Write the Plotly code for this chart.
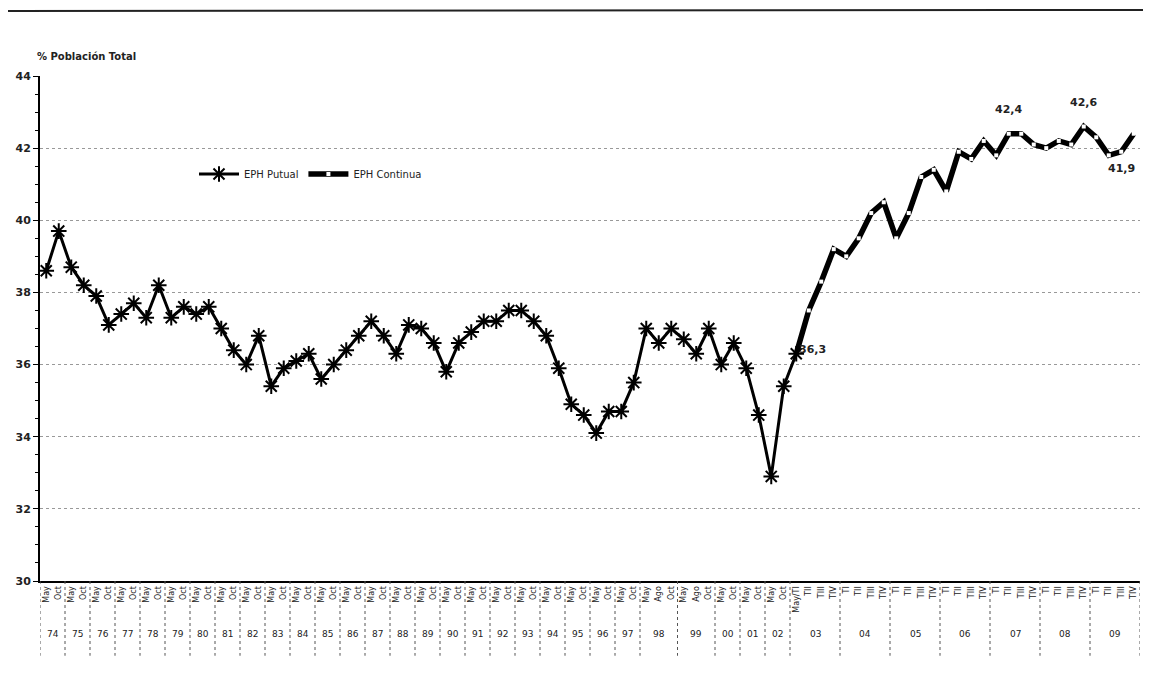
import plotly.graph_objects as go

# ---------------- data ----------------
year_labels = ["74", "75", "76", "77", "78", "79", "80", "81", "82", "83", "84", "85",
               "86", "87", "88", "89", "90", "91", "92", "93", "94", "95", "96", "97",
               "98", "99", "00", "01", "02", "03", "04", "05", "06", "07", "08", "09"]
year_periods = ([["May", "Oct"]] * 24 + [["May", "Ago", "Oct"]] * 2 + [["May", "Oct"]] * 3
                + [["May/TI", "TII", "TIII", "TIV"]] + [["TI", "TII", "TIII", "TIV"]] * 6)

eph_puntual = [38.6, 39.7, 38.7, 38.2, 37.9, 37.1, 37.4, 37.7, 37.3, 38.2,
               37.3, 37.6, 37.4, 37.6, 37.0, 36.4, 36.0, 36.8, 35.4, 35.9,
               36.1, 36.3, 35.6, 36.0, 36.4, 36.8, 37.2, 36.8, 36.3, 37.1,
               37.0, 36.6, 35.8, 36.6, 36.9, 37.2, 37.2, 37.5, 37.5, 37.2,
               36.8, 35.9, 34.9, 34.6, 34.1, 34.7, 34.7, 35.5,
               37.0, 36.6, 37.0, 36.7, 36.3, 37.0,
               36.0, 36.6, 35.9, 34.6, 32.9, 35.4, 36.3]
eph_continua = [36.3, 37.5, 38.3, 39.2,
                39.0, 39.5, 40.2, 40.5,
                39.5, 40.2, 41.2, 41.4,
                40.8, 41.9, 41.7, 42.2,
                41.8, 42.4, 42.4, 42.1,
                42.0, 42.2, 42.1, 42.6,
                42.3, 41.8, 41.9, 42.4]
# labelled points: (index into the full category list, text)
point_labels = [(60, "36,3"), (77, "42,4"), (83, "42,6"), (86, "41,9")]

# ---------------- build categories ----------------
tick_text = [p for ps in year_periods for p in ps]
x_all = list(range(len(tick_text)))
x_puntual = x_all[:len(eph_puntual)]
x_continua = x_all[len(eph_puntual) - 1:len(eph_puntual) - 1 + len(eph_continua)]

fig = go.Figure()
fig.add_trace(go.Scatter(
    x=x_continua, y=eph_continua, mode="lines+markers", name="EPH Continua",
    line=dict(color="black", width=5.5),
    marker=dict(symbol="square", size=4, color="white", line=dict(width=0)),
    legendrank=2,
))
fig.add_trace(go.Scatter(
    x=x_puntual, y=eph_puntual, mode="lines+markers", name="EPH Putual",
    line=dict(color="black", width=3),
    marker=dict(symbol="asterisk-open", size=13, color="black",
                line=dict(color="black", width=2)),
    legendrank=1,
))

full_vals = {}
for i, v in zip(x_puntual, eph_puntual):
    full_vals[i] = v
for i, v in zip(x_continua, eph_continua):
    full_vals[i] = v

ann = []
for idx, txt in point_labels:
    v = full_vals[idx]
    if txt == "36,3":
        a = dict(x=idx, y=v, text=txt, showarrow=False, xanchor="left",
                 yanchor="bottom", xshift=1, yshift=-4)
    elif txt == "41,9":
        a = dict(x=idx, y=v, text=txt, showarrow=False, xanchor="center",
                 yanchor="top", yshift=-8)
    else:
        a = dict(x=idx, y=v, text=txt, showarrow=False, xanchor="center",
                 yanchor="bottom", yshift=16)
    a["font"] = dict(family="DejaVu Sans", size=11, color="#222", weight="bold")
    ann.append(a)

# year labels & separators
shapes = []
start = 0
for yl, ps in zip(year_labels, year_periods):
    n = len(ps)
    center = start + (n - 1) / 2
    ann.append(dict(x=center, y=-0.119, yref="paper", text=yl, showarrow=False,
                    font=dict(family="DejaVu Sans", size=9, color="#222")))
    shapes.append(dict(type="line", xref="x", yref="paper", x0=start - 0.5, x1=start - 0.5,
                       y0=0, y1=-0.148, line=dict(color="#555", width=1, dash="dot")))
    start += n
shapes.append(dict(type="line", xref="x", yref="paper", x0=start - 0.5, x1=start - 0.5,
                   y0=0, y1=-0.148, line=dict(color="#555", width=1, dash="dot")))
# scan border at top
shapes.append(dict(type="line", xref="paper", yref="paper", x0=-0.03, x1=1.01,
                   y0=(581 - 11) / 505, y1=(581 - 10) / 505, line=dict(color="#222", width=2)))

ann.append(dict(x=-0.0045, y=1.0396, xref="paper", yref="paper", text="% Población Total",
                showarrow=False, xanchor="left", yanchor="middle",
                font=dict(family="DejaVu Sans", size=10, color="#222", weight="bold")))

# page body has an 8px margin: shrink the figure and margins accordingly
fig.update_layout(
    width=1143, height=686,
    margin=dict(l=32, r=11, t=68, b=113),
    paper_bgcolor="white", plot_bgcolor="white",
    showlegend=True,
    legend=dict(orientation="h", x=0.14, y=0.806, xanchor="left", yanchor="middle",
                bgcolor="rgba(0,0,0,0)", font=dict(family="DejaVu Sans", size=10, color="#222"),
                itemwidth=40, tracegroupgap=0),
    annotations=ann, shapes=shapes,
)
fig.update_xaxes(
    automargin=False,
    range=[-0.5, len(tick_text) - 0.5], tickmode="array", tickvals=x_all, ticktext=tick_text,
    tickangle=-90, tickfont=dict(family="DejaVu Sans", size=8, color="#222"),
    showgrid=False, zeroline=False, showline=True, linecolor="black", linewidth=2,
    ticks="", ticklen=0,
)
fig.update_yaxes(
    automargin=False,
    range=[30, 44], dtick=2, tick0=30, showgrid=True, gridcolor="#999", griddash="dot",
    gridwidth=1, zeroline=False, showline=True, linecolor="black", linewidth=2,
    ticks="outside", ticklen=5, tickcolor="black",
    tickfont=dict(family="DejaVu Sans", size=11, color="#222", weight="bold"),
    minor=dict(dtick=0.5, ticks="outside", ticklen=3, tickcolor="black", showgrid=False),
)

fig.write_html("out.html")
